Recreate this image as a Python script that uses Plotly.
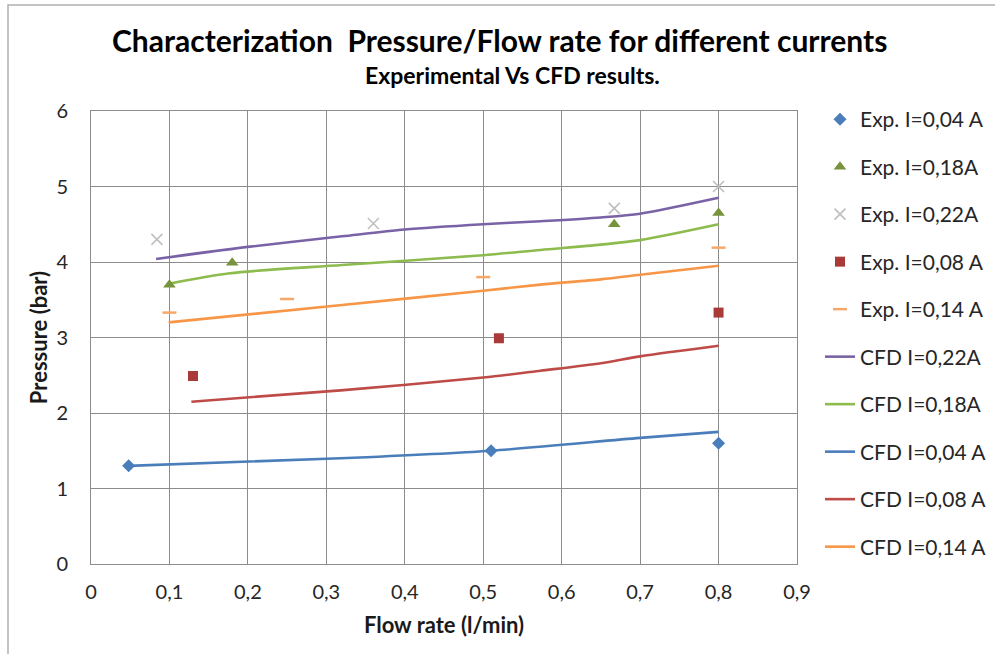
import plotly.graph_objects as go

# ---- data ----
exp004_x = [0.048, 0.51, 0.80]
exp004_y = [1.30, 1.50, 1.60]
exp018_x = [0.10, 0.18, 0.667, 0.80]
exp018_y = [3.70, 3.99, 4.50, 4.65]
exp022_x = [0.084, 0.36, 0.667, 0.80]
exp022_y = [4.30, 4.51, 4.71, 5.00]
exp008_x = [0.13, 0.52, 0.80]
exp008_y = [2.49, 2.99, 3.33]
exp014_x = [0.10, 0.25, 0.50, 0.80]
exp014_y = [3.33, 3.51, 3.80, 4.19]

cfd022_x = [0.083, 0.20, 0.32, 0.40, 0.50, 0.573, 0.65, 0.70, 0.80]
cfd022_y = [4.04, 4.20, 4.34, 4.43, 4.50, 4.54, 4.59, 4.64, 4.85]
cfd018_x = [0.099, 0.177, 0.32, 0.50, 0.573, 0.65, 0.70, 0.80]
cfd018_y = [3.71, 3.85, 3.96, 4.09, 4.16, 4.23, 4.29, 4.50]
cfd004_x = [0.048, 0.318, 0.51, 0.70, 0.80]
cfd004_y = [1.30, 1.40, 1.50, 1.67, 1.75]
cfd008_x = [0.128, 0.318, 0.50, 0.573, 0.65, 0.70, 0.80]
cfd008_y = [2.15, 2.30, 2.47, 2.56, 2.66, 2.75, 2.89]
cfd014_x = [0.099, 0.32, 0.50, 0.573, 0.65, 0.70, 0.80]
cfd014_y = [3.20, 3.43, 3.62, 3.70, 3.77, 3.83, 3.95]

x_tickvals = [0, 0.1, 0.2, 0.3, 0.4, 0.5, 0.6, 0.7, 0.8, 0.9]
x_ticktext = ["0", "0,1", "0,2", "0,3", "0,4", "0,5", "0,6", "0,7", "0,8", "0,9"]
y_tickvals = [0, 1, 2, 3, 4, 5, 6]
y_ticktext = ["0", "1", "2", "3", "4", "5", "6"]

FONT = "Lato"
fig = go.Figure()

def exp_trace(x, y, name, symbol, color, size, rank, line=None):
    m = dict(symbol=symbol, color=color, size=size)
    if line:
        m["line"] = line
    fig.add_trace(go.Scatter(x=x, y=y, mode="markers", name=name, marker=m,
                             legendgroup="g%d" % rank, legendrank=rank))

def cfd_trace(x, y, name, color, rank):
    fig.add_trace(go.Scatter(x=x, y=y, mode="lines", name=name,
                             line=dict(color=color, width=2.6, shape="spline", smoothing=0.8),
                             legendgroup="g%d" % rank, legendrank=rank))

cfd_trace(cfd022_x, cfd022_y, "CFD I=0,22A", "#7A62A6", 6)
cfd_trace(cfd018_x, cfd018_y, "CFD I=0,18A", "#8DBB4E", 7)
cfd_trace(cfd004_x, cfd004_y, "CFD I=0,04 A", "#4A7EBB", 8)
cfd_trace(cfd008_x, cfd008_y, "CFD I=0,08 A", "#BE4B48", 9)
cfd_trace(cfd014_x, cfd014_y, "CFD I=0,14 A", "#F79646", 10)

exp_trace(exp004_x, exp004_y, "Exp. I=0,04 A", "diamond", "#4A7EBB", 10, 1)
exp_trace(exp018_x, exp018_y, "Exp. I=0,18A", "triangle-up", "#77933C", 11, 2)
exp_trace(exp022_x, exp022_y, "Exp. I=0,22A", "x-thin", "#BFBFBF", 11, 3,
          line=dict(color="#BFBFBF", width=1.6))
exp_trace(exp008_x, exp008_y, "Exp. I=0,08 A", "square", "#A83A37", 10, 4)
exp_trace(exp014_x, exp014_y, "Exp. I=0,14 A", "line-ew", "#F7A868", 10, 5,
          line=dict(color="#F7A868", width=2.5))

axis_common = dict(showgrid=True, gridcolor="#8C8C8C", gridwidth=1,
                   showline=True, linecolor="#8C8C8C", linewidth=1, mirror=True,
                   zeroline=False, ticks="",
                   tickfont=dict(family=FONT, size=20, color="#262626"))

fig.update_xaxes(range=[0, 0.9], tickvals=x_tickvals, ticktext=x_ticktext,
                 title=dict(text="<b>Flow rate (l/min)</b>", font=dict(family=FONT, size=22, color="#1a1a1a"), standoff=15),
                 ticklabelstandoff=10, **axis_common)
fig.update_yaxes(range=[0, 6], tickvals=y_tickvals, ticktext=y_ticktext,
                 title=dict(text="<b>Pressure (bar)</b>", font=dict(family=FONT, size=22, color="#1a1a1a"), standoff=2),
                 ticklabelstandoff=18, **axis_common)

L, R, T, B = 91, 198, 111, 90
PW, PH = 995 - L - R, 654 - T - B

def px_x(p):
    return (p - L) / PW

def px_y(p):
    return (654 - B - p) / PH

fig.add_annotation(text="<b>Characterization  Pressure/Flow rate for different currents</b>",
                   xref="paper", yref="paper", x=px_x(500), y=px_y(40), showarrow=False,
                   xanchor="center", yanchor="middle",
                   font=dict(family=FONT, size=30, color="#000000"))
fig.add_annotation(text="<b>Experimental Vs CFD results.</b>",
                   xref="paper", yref="paper", x=px_x(512), y=px_y(75), showarrow=False,
                   xanchor="center", yanchor="middle",
                   font=dict(family=FONT, size=23, color="#000000"))

fig.add_shape(type="rect", xref="paper", yref="paper",
              x0=px_x(8), x1=px_x(1010), y0=px_y(5), y1=px_y(670),
              line=dict(color="#B0B0B0", width=1.5), fillcolor="rgba(0,0,0,0)", layer="below")

fig.update_layout(
    width=995, height=654,
    margin=dict(l=L, r=R, t=T, b=B, autoexpand=False),
    paper_bgcolor="white", plot_bgcolor="white",
    font=dict(family=FONT, color="#262626"),
    legend=dict(x=px_x(820), y=px_y(99), xanchor="left", yanchor="top",
                font=dict(family=FONT, size=21, color="#262626"),
                tracegroupgap=17.2, itemwidth=30, traceorder="grouped",
                maxheight=620,
                bgcolor="rgba(0,0,0,0)"),
)

fig.write_html("out.html")
